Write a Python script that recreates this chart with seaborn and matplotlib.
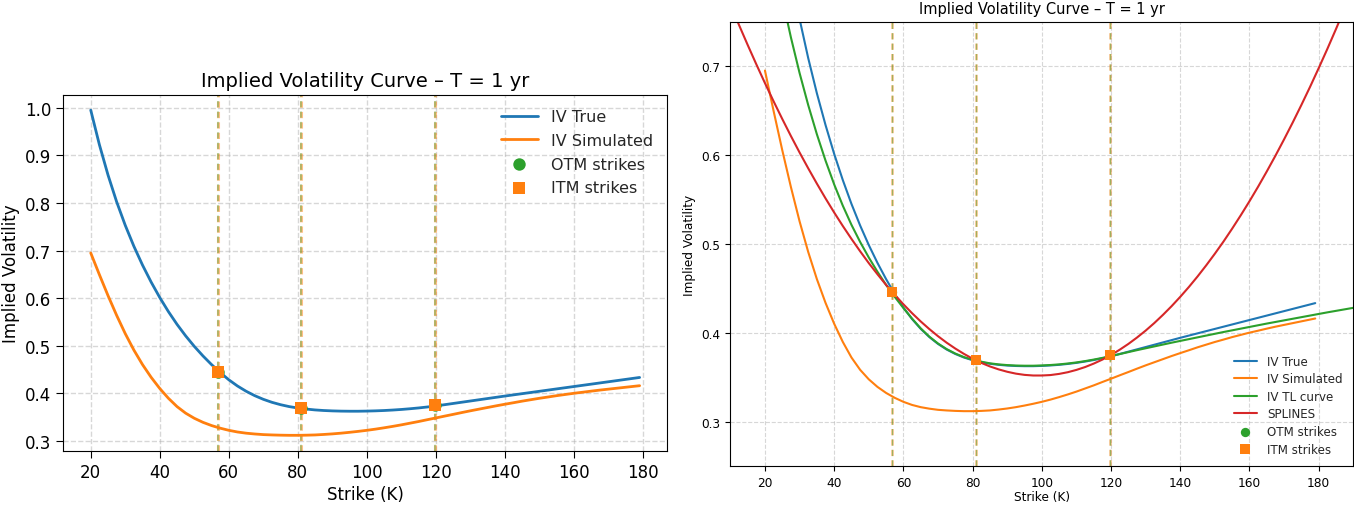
import matplotlib
matplotlib.use("Agg")
import matplotlib.pyplot as plt
import seaborn as sns

# ---------------- data ----------------
strikes = [20, 22.5, 25, 27.5, 30, 32.5, 35, 37.5, 40, 42.5, 45, 47.5, 50, 52.5,
           55, 57.5, 60, 62.5, 65, 67.5, 70, 72.5, 75, 77.5, 80, 82.5, 85, 87.5,
           90, 92.5, 95, 97.5, 100, 102.5, 105, 107.5, 110, 112.5, 115, 117.5,
           120, 122.5, 125, 127.5, 130, 132.5, 135, 137.5, 140, 142.5, 145, 147.5,
           150, 152.5, 155, 157.5, 160, 162.5, 165, 167.5, 170, 172.5, 175, 177.5,
           179]
iv_true = [0.9950, 0.9225, 0.8588, 0.8025, 0.7530, 0.7090, 0.6695, 0.6338, 0.6013,
           0.5718, 0.5450, 0.5208, 0.4988, 0.4788, 0.4605, 0.4438, 0.4286, 0.4156,
           0.4046, 0.3953, 0.3876, 0.3813, 0.3763, 0.3723, 0.3693, 0.3671, 0.3653,
           0.3641, 0.3633, 0.3628, 0.3626, 0.3626, 0.3629, 0.3634, 0.3641, 0.3651,
           0.3663, 0.3678, 0.3695, 0.3715, 0.3737, 0.3763, 0.3789, 0.3815, 0.3841,
           0.3867, 0.3893, 0.3919, 0.3945, 0.3970, 0.3995, 0.4020, 0.4045, 0.4070,
           0.4095, 0.4120, 0.4145, 0.4170, 0.4195, 0.4220, 0.4245, 0.4270, 0.4295,
           0.4320, 0.4335]
iv_sim = [0.6950, 0.6495, 0.6055, 0.5640, 0.5255, 0.4910, 0.4605, 0.4338, 0.4103,
          0.3898, 0.3723, 0.3585, 0.3478, 0.3393, 0.3325, 0.3270, 0.3225, 0.3190,
          0.3165, 0.3148, 0.3135, 0.3128, 0.3123, 0.3120, 0.3120, 0.3123, 0.3128,
          0.3138, 0.3150, 0.3165, 0.3183, 0.3203, 0.3225, 0.3250, 0.3278, 0.3308,
          0.3340, 0.3375, 0.3410, 0.3448, 0.3485, 0.3523, 0.3560, 0.3598, 0.3635,
          0.3670, 0.3705, 0.3740, 0.3773, 0.3805, 0.3838, 0.3868, 0.3898, 0.3925,
          0.3953, 0.3978, 0.4003, 0.4025, 0.4048, 0.4070, 0.4090, 0.4110, 0.4130,
          0.4150, 0.4162]

tl_strikes = [20, 22.5, 25, 27.5, 30, 32.5, 35, 37.5, 40, 42.5, 45, 47.5, 50, 52.5,
              55, 57.5, 60, 62.5, 65, 67.5, 70, 72.5, 75, 77.5, 80, 82.5, 85, 87.5,
              90, 92.5, 95, 97.5, 100, 102.5, 105, 107.5, 110, 112.5, 115, 117.5,
              120, 122.5, 125, 127.5, 130, 132.5, 135, 137.5, 140, 142.5, 145, 147.5,
              150, 152.5, 155, 157.5, 160, 162.5, 165, 167.5, 170, 172.5, 175, 177.5,
              180, 182.5, 185, 187.5, 190, 192.5, 195]
iv_tl = [0.8793, 0.8253, 0.7765, 0.7323, 0.6923, 0.6562, 0.6234, 0.5938, 0.5670,
         0.5430, 0.5215, 0.5023, 0.4848, 0.4688, 0.4540, 0.4405, 0.4280, 0.4161,
         0.4051, 0.3958, 0.3881, 0.3818, 0.3768, 0.3728, 0.3698, 0.3676, 0.3658,
         0.3646, 0.3638, 0.3633, 0.3631, 0.3631, 0.3634, 0.3639, 0.3646, 0.3656,
         0.3668, 0.3683, 0.3700, 0.3719, 0.3740, 0.3762, 0.3784, 0.3806, 0.3827,
         0.3848, 0.3869, 0.3890, 0.3910, 0.3930, 0.3950, 0.3970, 0.3990, 0.4010,
         0.4029, 0.4048, 0.4067, 0.4086, 0.4105, 0.4123, 0.4141, 0.4159, 0.4177,
         0.4195, 0.4213, 0.4231, 0.4248, 0.4265, 0.4282, 0.4299, 0.4316]

spline_strikes = [10, 12.5, 15, 17.5, 20, 22.5, 25, 27.5, 30, 32.5, 35, 37.5, 40,
                  42.5, 45, 47.5, 50, 52.5, 55, 57.5, 60, 62.5, 65, 67.5, 70, 72.5,
                  75, 77.5, 80, 82.5, 85, 87.5, 90, 92.5, 95, 97.5, 100, 102.5, 105,
                  107.5, 110, 112.5, 115, 117.5, 120, 122.5, 125, 127.5, 130, 132.5,
                  135, 137.5, 140, 142.5, 145, 147.5, 150, 152.5, 155, 157.5, 160,
                  162.5, 165, 167.5, 170, 172.5, 175, 177.5, 180, 182.5, 185, 187.5,
                  190]
iv_spline = [0.7694, 0.7463, 0.7239, 0.7021, 0.6809, 0.6604, 0.6406, 0.6214, 0.6029,
             0.5851, 0.5679, 0.5513, 0.5354, 0.5202, 0.5057, 0.4918, 0.4785, 0.4660,
             0.4540, 0.4428, 0.4322, 0.4222, 0.4129, 0.4043, 0.3963, 0.3890, 0.3824,
             0.3764, 0.3710, 0.3663, 0.3623, 0.3590, 0.3563, 0.3542, 0.3528, 0.3521,
             0.3521, 0.3526, 0.3539, 0.3558, 0.3584, 0.3616, 0.3655, 0.3700, 0.3752,
             0.3811, 0.3876, 0.3948, 0.4026, 0.4111, 0.4203, 0.4301, 0.4406, 0.4517,
             0.4635, 0.4760, 0.4891, 0.5028, 0.5173, 0.5324, 0.5481, 0.5645, 0.5816,
             0.5993, 0.6177, 0.6367, 0.6564, 0.6767, 0.6978, 0.7194, 0.7418, 0.7648,
             0.7884]

otm_strikes = [56.8, 81.0, 119.6]
otm_iv = [0.446, 0.369, 0.375]
itm_strikes = [56.8, 81.0, 119.6]
itm_iv = [0.446, 0.369, 0.375]

C_BLUE, C_ORANGE, C_GREEN, C_RED = "#1f77b4", "#ff7f0e", "#2ca02c", "#d62728"

sns.set_style("ticks")
plt.rcParams["font.family"] = ["DejaVu Sans"]

fig = plt.figure(figsize=(13.54, 5.06), dpi=100)
axL = fig.add_axes([0.04675, 0.1061, 0.4459, 0.7047])
axR = fig.add_axes([0.5394, 0.0765, 0.4601, 0.8787])


def vlines(ax, lw_o, lw_g):
    on, off = 4.5, 3.0
    for k in itm_strikes:
        ax.axvline(k, color=C_ORANGE, lw=lw_o, alpha=0.5, zorder=1.6,
                   ls=(0, (on / lw_o, off / lw_o)))
    for k in otm_strikes:
        ax.axvline(k, color=C_GREEN, lw=lw_g, alpha=0.45, zorder=1.7,
                   ls=(0, (on / lw_g, off / lw_g)))


def style_axes(ax, tick_fs, tick_len):
    ax.set_xticks([20, 40, 60, 80, 100, 120, 140, 160, 180])
    ax.tick_params(labelsize=tick_fs, colors="black", length=tick_len)
    for sp in ax.spines.values():
        sp.set_color("black")


# ---------------- left panel ----------------
ax = axL
sns.lineplot(x=strikes, y=iv_true, color=C_BLUE, lw=2.0, label="IV True", ax=ax, sort=False)
sns.lineplot(x=strikes, y=iv_sim, color=C_ORANGE, lw=2.0, label="IV Simulated", ax=ax, sort=False)
sns.scatterplot(x=otm_strikes, y=otm_iv, color=C_GREEN, marker="o", s=80, linewidth=0,
                label="OTM strikes", ax=ax, zorder=3)
sns.scatterplot(x=itm_strikes, y=itm_iv, color=C_ORANGE, marker="s", s=80, linewidth=0,
                label="ITM strikes", ax=ax, zorder=4)
vlines(ax, 2.2, 1.1)
ax.set_xlim(12.05, 186.95)
ax.set_ylim(0.2784, 1.0273)
yt = [0.3, 0.4, 0.5, 0.6, 0.7, 0.8, 0.9, 1.0]
ax.set_yticks(yt)
ax.set_yticklabels([f"{v:.1f}" for v in yt])
ax.grid(True, ls="--", color="#b0b0b0", alpha=0.5, lw=1.0)
style_axes(ax, 12, 5)
ax.set_title("Implied Volatility Curve – T = 1 yr", fontsize=14, color="black")
ax.set_xlabel("Strike (K)", fontsize=12, color="black", labelpad=2.5)
ax.set_ylabel("Implied Volatility", fontsize=12, color="black")
ax.legend(loc="upper right", frameon=False, fontsize=11.5, labelspacing=0.55,
          handlelength=2.3)

# ---------------- right panel ----------------
ax = axR
sns.lineplot(x=strikes, y=iv_true, color=C_BLUE, lw=1.5, label="IV True", ax=ax, sort=False)
sns.lineplot(x=strikes, y=iv_sim, color=C_ORANGE, lw=1.5, label="IV Simulated", ax=ax, sort=False)
sns.lineplot(x=tl_strikes, y=iv_tl, color=C_GREEN, lw=1.5, label="IV TL curve", ax=ax, sort=False)
sns.lineplot(x=spline_strikes, y=iv_spline, color=C_RED, lw=1.5, label="SPLINES", ax=ax, sort=False)
sns.scatterplot(x=otm_strikes, y=otm_iv, color=C_GREEN, marker="o", s=45, linewidth=0,
                label="OTM strikes", ax=ax, zorder=3)
sns.scatterplot(x=itm_strikes, y=itm_iv, color=C_ORANGE, marker="s", s=45, linewidth=0,
                label="ITM strikes", ax=ax, zorder=4)
vlines(ax, 1.8, 0.9)
ax.set_xlim(10, 190)
ax.set_ylim(0.25, 0.75)
yt = [0.3, 0.4, 0.5, 0.6, 0.7]
ax.set_yticks(yt)
ax.set_yticklabels([f"{v:.1f}" for v in yt])
ax.grid(True, ls="--", color="#b0b0b0", alpha=0.5, lw=0.8)
style_axes(ax, 8.7, 3.5)
ax.set_title("Implied Volatility Curve – T = 1 yr", fontsize=10.5, color="black")
ax.set_xlabel("Strike (K)", fontsize=8.7, color="black", labelpad=1.0)
ax.set_ylabel("Implied Volatility", fontsize=8.7, color="black")
ax.legend(loc="lower right", frameon=False, fontsize=8.6, labelspacing=0.38)

fig.savefig("out.png", dpi=100)
